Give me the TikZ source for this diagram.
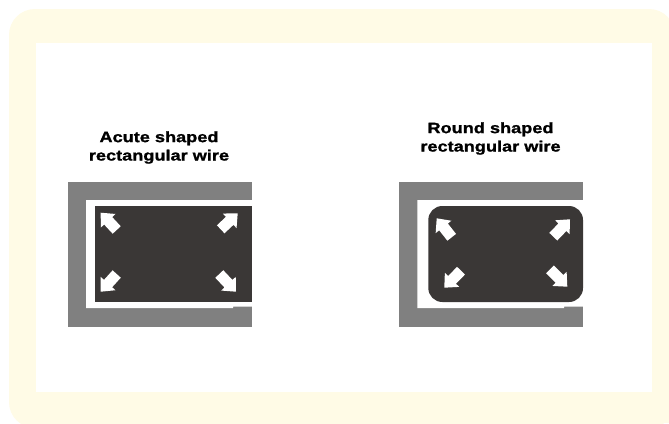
\documentclass[tikz,border=0pt]{standalone}
\usepackage{fontspec}
\setmainfont{Liberation Sans}
\newfontfamily\wirelabelfont[FakeStretch=1.21,FakeBold=1.2]{Liberation Sans}
\definecolor{panelcream}{HTML}{FFFBE6}
\definecolor{shellgray}{HTML}{808080}
\definecolor{wiredark}{HTML}{3A3736}
\tikzset{
  shell/.style={fill=shellgray,draw=none},
  wire/.style={fill=wiredark,draw=none},
  wirelabel/.style={align=center,font=\wirelabelfont\fontsize{15}{18.4}\selectfont\bfseries,inner sep=0pt,text=black},
}
% tip x, tip y, tail x, tail y
\newcommand{\heatarrow}[4]{%
  \begin{scope}[shift={(#1,#2)}]
    \pgfmathsetmacro{\ang}{atan2(#4-#2,#3-#1)}
    \pgfmathsetmacro{\len}{veclen(#3-#1,#4-#2)}
    \fill[white,rotate=-\ang] (0,0) -- (11,10) -- (11,5.5) -- (\len,5.5) -- (\len,-5.5) -- (11,-5.5) -- (11,-10) -- cycle;
  \end{scope}}
\begin{document}
\begin{tikzpicture}[x=1pt,y=-1pt]
\useasboundingbox (0,0) rectangle (669,423);
\fill[white] (0,0) rectangle (669,423);
\fill[panelcream,rounded corners=26pt] (9,9) rectangle (675,428);
\fill[panelcream] (630,390) rectangle (669,423);
\fill[white] (36,43) rectangle (652,392);
% left
\fill[shell] (68,182) rectangle (252,327);
\fill[white] (86,200) -- (252,200) -- (252,306.7) -- (233,306.7) -- (233,308) -- (86,308) -- cycle;
\fill[wire] (94.7,206) rectangle (252,301.7);
\heatarrow{100.7}{212.7}{116.7}{230}
\heatarrow{237.7}{213.3}{220.7}{229.3}
\heatarrow{100.7}{291.7}{116.7}{274}
\heatarrow{236}{291.7}{219.3}{274}
\node[wirelabel] (acute) at (159,147.5) {Acute shaped\\rectangular wire};
% right
\fill[shell] (398.7,182) rectangle (583.3,327);
\fill[white] (417.3,200) -- (583.3,200) -- (583.3,306.7) -- (564,306.7) -- (564,308) -- (417.3,308) -- cycle;
\fill[wire,rounded corners=14pt] (428.3,206) rectangle (583,302);
\heatarrow{436.7}{218.3}{451.7}{237.3}
\heatarrow{570}{219.3}{553.3}{236.7}
\heatarrow{444.3}{287.7}{461}{270.7}
\heatarrow{567.3}{286.7}{550}{269.3}
\node[wirelabel] (round) at (490.5,138.5) {Round shaped\\rectangular wire};
\end{tikzpicture}
\end{document}
